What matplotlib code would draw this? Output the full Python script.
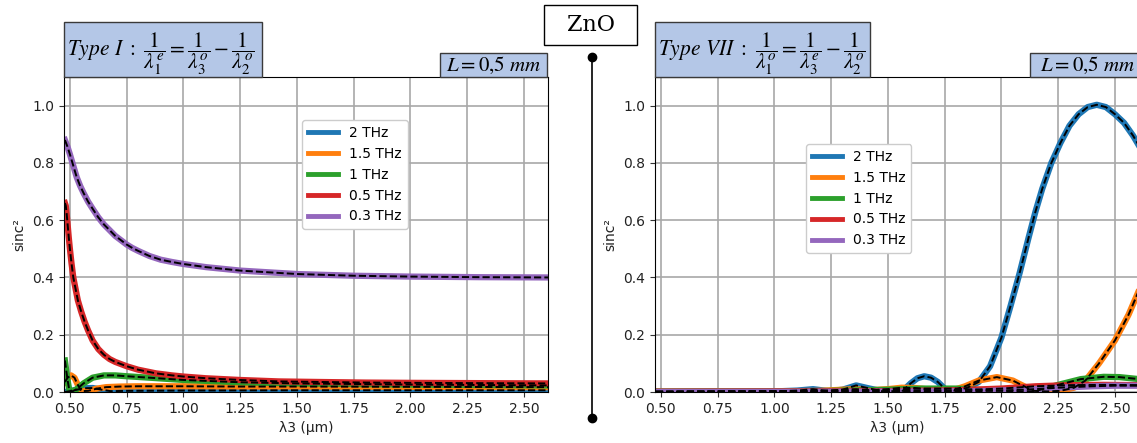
import matplotlib
matplotlib.use('Agg')
import matplotlib.pyplot as plt
from matplotlib.patches import Rectangle
from matplotlib.lines import Line2D

plt.rcParams['mathtext.fontset'] = 'stix'

labels = ['2 THz', '1.5 THz', '1 THz', '0.5 THz', '0.3 THz']
colors = ['#1f77b4', '#ff7f0e', '#2ca02c', '#d62728', '#9467bd']

# Type I
t1_x_2 = [0.478, 0.5, 0.53, 0.56, 0.6, 0.64, 0.68, 0.75, 1.0, 1.5, 2.0, 2.606]
t1_y_2 = [0.0, 0.003, 0.008, 0.013, 0.014, 0.008, 0.003, 0.004, 0.005, 0.006, 0.006, 0.006]
t1_x_15 = [0.478, 0.49, 0.505, 0.52, 0.535, 0.55, 0.58, 0.62, 0.66, 0.72, 0.8, 1.0, 1.25, 1.5, 2.0, 2.606]
t1_y_15 = [0.035, 0.05, 0.058, 0.05, 0.025, 0.003, 0.004, 0.012, 0.017, 0.019, 0.02, 0.02, 0.019, 0.019, 0.018, 0.017]
t1_x_1 = [0.478, 0.483, 0.49, 0.497, 0.51, 0.53, 0.56, 0.6, 0.65, 0.7, 0.75, 0.85, 1.0, 1.25, 1.5, 2.0, 2.606]
t1_y_1 = [0.11, 0.08, 0.04, 0.008, 0.002, 0.01, 0.03, 0.05, 0.058, 0.058, 0.055, 0.05, 0.042, 0.034, 0.03, 0.026, 0.023]
t1_x_05 = [0.478, 0.482, 0.486, 0.49, 0.495, 0.5, 0.507, 0.515, 0.525, 0.535, 0.55, 0.565, 0.58, 0.6, 0.625,
           0.65, 0.675, 0.7, 0.75, 0.8, 0.88, 0.95, 1.0, 1.1, 1.25, 1.42, 1.6, 1.8, 2.0, 2.3, 2.606]
t1_y_05 = [0.66, 0.65, 0.62, 0.585, 0.54, 0.50, 0.45, 0.40, 0.36, 0.32, 0.28, 0.245, 0.215, 0.18, 0.15,
           0.13, 0.115, 0.105, 0.09, 0.078, 0.065, 0.058, 0.054, 0.048, 0.042, 0.037, 0.035, 0.033, 0.032,
           0.031, 0.03]
t1_x_03 = [0.478, 0.49, 0.5, 0.515, 0.53, 0.545, 0.56, 0.58, 0.6, 0.625, 0.65, 0.675, 0.7, 0.725, 0.75,
           0.775, 0.8, 0.85, 0.9, 0.95, 1.0, 1.1, 1.25, 1.5, 1.75, 2.0, 2.3, 2.606]
t1_y_03 = [0.88, 0.855, 0.83, 0.79, 0.75, 0.72, 0.695, 0.665, 0.64, 0.61, 0.585, 0.565, 0.545, 0.53, 0.515,
           0.503, 0.493, 0.475, 0.462, 0.454, 0.447, 0.436, 0.424, 0.412, 0.406, 0.403, 0.401, 0.40]

# Type VII
t7_x_2 = [0.478, 0.8, 1.0, 1.1, 1.17, 1.24, 1.3, 1.36, 1.42, 1.48, 1.565, 1.6, 1.63, 1.66, 1.69, 1.72, 1.76,
          1.8, 1.85, 1.9, 1.95, 2.0, 2.04, 2.08, 2.12, 2.15, 2.18, 2.22, 2.26, 2.3, 2.34, 2.38, 2.42, 2.46,
          2.5, 2.54, 2.58, 2.606]
t7_y_2 = [0.001, 0.002, 0.002, 0.005, 0.01, 0.003, 0.008, 0.023, 0.012, 0.002, 0.004, 0.03, 0.048, 0.055,
          0.05, 0.035, 0.004, 0.005, 0.015, 0.035, 0.09, 0.19, 0.30, 0.415, 0.54, 0.63, 0.71, 0.80, 0.87,
          0.93, 0.97, 0.995, 1.003, 0.995, 0.97, 0.94, 0.895, 0.86]
t7_x_15 = [0.478, 1.0, 1.2, 1.3, 1.36, 1.42, 1.5, 1.56, 1.62, 1.7, 1.77, 1.84, 1.9, 1.98, 2.05, 2.1, 2.14,
           2.2, 2.26, 2.32, 2.37, 2.43, 2.5, 2.56, 2.606]
t7_y_15 = [0.001, 0.002, 0.004, 0.008, 0.01, 0.006, 0.01, 0.015, 0.014, 0.007, 0.002, 0.02, 0.04, 0.052,
           0.04, 0.02, 0.004, 0.002, 0.004, 0.015, 0.04, 0.10, 0.18, 0.27, 0.355]
t7_x_1 = [0.478, 1.2, 1.5, 1.65, 1.8, 1.95, 2.1, 2.15, 2.25, 2.35, 2.45, 2.52, 2.606]
t7_y_1 = [0.001, 0.003, 0.008, 0.012, 0.012, 0.005, 0.002, 0.003, 0.025, 0.045, 0.053, 0.052, 0.045]
t7_x_05 = [0.478, 1.5, 1.8, 2.0, 2.15, 2.3, 2.45, 2.606]
t7_y_05 = [0.001, 0.003, 0.006, 0.012, 0.02, 0.024, 0.025, 0.024]
t7_x_03 = [0.478, 1.5, 1.9, 2.1, 2.25, 2.4, 2.5, 2.606]
t7_y_03 = [0.0, 0.001, 0.003, 0.008, 0.015, 0.02, 0.022, 0.022]

type1 = [(t1_x_2, t1_y_2), (t1_x_15, t1_y_15), (t1_x_1, t1_y_1), (t1_x_05, t1_y_05), (t1_x_03, t1_y_03)]
type7 = [(t7_x_2, t7_y_2), (t7_x_15, t7_y_15), (t7_x_1, t7_y_1), (t7_x_05, t7_y_05), (t7_x_03, t7_y_03)]

W, H = 1137, 443
fig = plt.figure(figsize=(W / 100, H / 100), dpi=100)


def px_rect(x0, y0, x1, y1):
    # pixels (origine en haut a gauche) -> coordonnees figure
    return [x0 / W, 1 - y1 / H, (x1 - x0) / W, (y1 - y0) / H]


ax1 = fig.add_axes(px_rect(64, 77, 548, 392))
ax2 = fig.add_axes(px_rect(655, 77, 1139, 392))

for ax, series, leg_pos in [(ax1, type1, (0.492, 0.863)), (ax2, type7, (0.312, 0.787))]:
    for (x, y), c in zip(series, colors):
        ax.plot(x, y, color=c, lw=4.5, solid_joinstyle='round')
    for x, y in series:
        ax.plot(x, y, color='black', lw=1.4, ls='--')
    ax.set_xlim(0.474, 2.606)
    ax.set_ylim(0, 1.1)
    ax.set_xticks([0.5, 0.75, 1.0, 1.25, 1.5, 1.75, 2.0, 2.25, 2.5])
    ax.set_yticks([0.0, 0.2, 0.4, 0.6, 0.8, 1.0])
    ax.tick_params(labelsize=10, colors='#333333', labelcolor='#222222')
    ax.grid(True, color='#a8a8a8', lw=1.2)
    ax.set_axisbelow(True)
    ax.set_xlabel('λ3 (µm)', fontsize=10, color='#222222')
    ax.set_ylabel('sinc²', fontsize=10, color='#222222')
    handles = [Line2D([0], [0], color=c, lw=3.5) for c in colors]
    ax.legend(handles, labels, loc='upper left', bbox_to_anchor=leg_pos, borderaxespad=0,
              fontsize=10, framealpha=1.0, handlelength=2.2)

# cadres des titres
box_fc = '#b4c7e7'
for x0, y0, x1, y1 in [(64, 22, 262, 77), (655, 22, 870, 77), (440, 53, 547, 77), (1030, 53, 1145, 77)]:
    r = px_rect(x0, y0, x1, y1)
    fig.patches.append(Rectangle((r[0], r[1]), r[2], r[3], transform=fig.transFigure,
                                 facecolor=box_fc, edgecolor='#3a3a3a', lw=1.0))

fig.text(67 / W, 1 - 54 / H,
         r'$\mathit{Type\ I}\ :\ \dfrac{1}{\lambda_1^e}=\dfrac{1}{\lambda_3^o}-\dfrac{1}{\lambda_2^o}$',
         fontsize=15.5, ha='left', va='center')
fig.text(658 / W, 1 - 54 / H,
         r'$\mathit{Type\ VII}\ :\ \dfrac{1}{\lambda_1^o}=\dfrac{1}{\lambda_3^e}-\dfrac{1}{\lambda_2^o}$',
         fontsize=15.5, ha='left', va='center')
fig.text(493 / W, 1 - 65 / H, r'$L=0{,}5\ mm$', fontsize=15, ha='center', va='center')
fig.text(1087 / W, 1 - 65 / H, r'$L=0{,}5\ mm$', fontsize=15, ha='center', va='center')

# ZnO
r = px_rect(544, 5, 637, 45)
fig.patches.append(Rectangle((r[0], r[1]), r[2], r[3], transform=fig.transFigure,
                             facecolor='white', edgecolor='black', lw=1.0))
fig.text(590.5 / W, 1 - 25 / H, 'ZnO', fontsize=16, family='DejaVu Serif', ha='center', va='center')

fig.lines.append(Line2D([592 / W, 592 / W], [1 - 57 / H, 1 - 418 / H], transform=fig.transFigure,
                        color='black', lw=1.2, marker='o', markersize=6))

fig.savefig('out.png', dpi=100)
